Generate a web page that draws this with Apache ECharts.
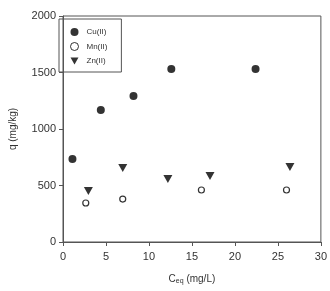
<!DOCTYPE html>
<html>
<head>
<meta charset="utf-8">
<script src="https://cdn.jsdelivr.net/npm/echarts@6/dist/echarts.min.js"></script>
<style>
  html, body { margin: 0; padding: 0; background: #fff; }
  #chart { width: 330px; height: 291px; }
</style>
</head>
<body>
<div id="chart"></div>
<script>
const cuData = [[1.1, 735], [4.4, 1168], [8.2, 1292], [12.6, 1531], [22.4, 1531]]
const mnData = [[2.65, 345], [6.95, 380], [16.1, 460], [26.0, 460]]
const znData = [[2.95, 451], [6.95, 655], [12.2, 557], [17.1, 584], [26.4, 664]]
const seriesNames = ['Cu(II)', 'Mn(II)', 'Zn(II)']

const chart = echarts.init(document.getElementById('chart'))

// 倒三角
const downTri = 'path://M0,0 L10,0 L5,9 Z'

const axisCommon = {
  axisLine: { show: true, lineStyle: { color: '#555', width: 1 } },
  axisTick: { show: true, inside: false, length: 4, lineStyle: { color: '#555' } },
  axisLabel: { color: '#333', fontSize: 11, fontFamily: 'Liberation Sans', formatter: (v) => String(v) },
  splitLine: { show: false },
}

const option = {
  backgroundColor: '#fff',
  animation: false,
  grid: { left: 55, right: 7, top: 16, bottom: 49, show: true, borderColor: '#555', borderWidth: 1 },
  legend: {
    orient: 'vertical',
    left: 59,
    top: 19,
    padding: [9, 14, 7, 11],
    itemGap: 6,
    itemWidth: 8,
    itemHeight: 8,
    borderColor: '#555',
    borderWidth: 1,
    textStyle: { fontSize: 8, color: '#333', fontFamily: 'Liberation Sans', padding: [0, 0, 0, 3] },
    data: [
      { name: seriesNames[0], itemStyle: { color: '#000' } },
      { name: seriesNames[1], itemStyle: { color: '#fff', borderColor: '#000', borderWidth: 1 } },
      { name: seriesNames[2], itemStyle: { color: '#000' } },
    ],
  },
  xAxis: {
    ...axisCommon,
    type: 'value',
    min: 0,
    max: 30,
    interval: 5,
    axisLabel: { ...axisCommon.axisLabel, margin: 9 },
    name: '{c|C}{s|eq}{c| (mg/L)}',
    nameLocation: 'middle',
    nameGap: 31,
    nameTextStyle: {
      rich: {
        c: { fontSize: 10, color: '#333', fontFamily: 'Liberation Sans' },
        s: { fontSize: 7, color: '#333', fontFamily: 'Liberation Sans', verticalAlign: 'bottom', padding: [5, 0, 0, 0] },
      },
    },
  },
  yAxis: {
    ...axisCommon,
    type: 'value',
    min: 0,
    max: 2000,
    interval: 500,
    axisLabel: { ...axisCommon.axisLabel, margin: 7 },
    name: 'q (mg/kg)',
    nameLocation: 'middle',
    nameGap: 45,
    nameTextStyle: { fontSize: 10, color: '#333', fontFamily: 'Liberation Sans' },
  },
  series: [
    {
      name: seriesNames[0],
      type: 'scatter',
      data: cuData,
      symbol: 'circle',
      symbolSize: 8,
      itemStyle: { color: '#000' },
    },
    {
      name: seriesNames[1],
      type: 'scatter',
      data: mnData,
      symbol: 'circle',
      symbolSize: 6,
      itemStyle: { color: '#fff', borderColor: '#000', borderWidth: 1.2 },
    },
    {
      name: seriesNames[2],
      type: 'scatter',
      data: znData,
      symbol: downTri,
      symbolSize: [9, 8],
      itemStyle: { color: '#000' },
    },
  ],
}

chart.setOption(option)
</script>
</body>
</html>
